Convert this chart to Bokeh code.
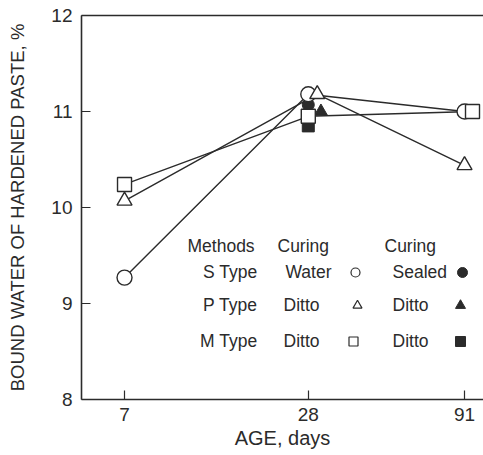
import math
from bokeh.plotting import figure
from bokeh.models import FixedTicker, LinearAxis
from bokeh.core.properties import value
from bokeh.embed import file_html
from bokeh.resources import INLINE

# ---------------- data ----------------
days = [7, 28, 91]
day_labels = ["7", "28", "91"]
s_water = [9.27, 11.18, 11.0]
p_water = [10.07, 11.18, 10.44]
m_water = [10.24, 10.95, 11.0]
sealed_day = 28
s_sealed = 11.07
p_sealed = 11.0
m_sealed = 10.85
y_ticks = [8, 9, 10, 11, 12]
y_label = "BOUND WATER OF HARDENED PASTE, %"
x_label = "AGE, days"

legend_head = ["Methods", "Curing", "Curing"]
legend_types = ["S Type", "P Type", "M Type"]
legend_water = ["Water", "Ditto", "Ditto"]
legend_sealed = ["Sealed", "Ditto", "Ditto"]

# ---------------- layout ----------------
W, H = 483, 455
FL, FR, FT, FB = 81, 483, 15, 399
XMIN, XMAX = 5.06, 105.0
YMIN, YMAX = 8, 12
LX0, LX1 = math.log10(XMIN), math.log10(XMAX)

def sx(px):
    return 10 ** (LX0 + (px - FL) * (LX1 - LX0) / (FR - FL))

def sy(py):
    return YMAX - (py - FT) * (YMAX - YMIN) / (FB - FT)

# small horizontal nudges (multiplicative on log axis) to separate overlapping marks
nudge_p28 = 1.07
nudge_p28_sealed = 1.10
nudge_m91 = 1.062

INK = "#2b2b2b"
FONT = "Liberation Sans"

p = figure(width=W, height=H, x_axis_type="log",
           x_range=(XMIN, XMAX), y_range=(YMIN, YMAX),
           output_backend="svg", toolbar_location=None,
           min_border_left=FL, min_border_right=W - FR,
           min_border_top=FT, min_border_bottom=H - FB)
p.outline_line_color = None
p.background_fill_color = "white"
p.border_fill_color = "white"
p.grid.visible = False

# axes
for ax in (p.xaxis[0], p.yaxis[0]):
    ax.axis_line_color = INK
    ax.axis_line_width = 1.6
    ax.major_tick_in = 9
    ax.major_tick_out = 0
    ax.major_tick_line_color = INK
    ax.major_tick_line_width = 1.2
    ax.minor_tick_line_color = None
    ax.major_label_text_font = FONT
    ax.major_label_text_font_size = "19px"
    ax.major_label_text_color = INK
    ax.axis_label_text_font = FONT
    ax.axis_label_text_font_style = "normal"
    ax.axis_label_text_color = INK

p.xaxis.ticker = FixedTicker(ticks=days)
p.xaxis.major_label_overrides = {d: l for d, l in zip(days, day_labels)}
p.xaxis.major_label_standoff = 8
p.xaxis.axis_label = x_label
p.xaxis.axis_label_text_font_size = "20px"
p.xaxis.axis_label_standoff = 3

p.yaxis.ticker = FixedTicker(ticks=y_ticks)
p.yaxis.major_label_standoff = 9
p.yaxis.axis_label = y_label
p.yaxis.axis_label_text_font_size = "18.5px"
p.yaxis.axis_label_standoff = 20

top = LinearAxis(ticker=FixedTicker(ticks=[]), axis_line_color=INK, axis_line_width=1.6,
                 major_tick_line_color=None, minor_tick_line_color=None,
                 major_label_text_font_size="0px", major_label_standoff=0)
p.add_layout(top, "above")

# ---------------- data lines ----------------
p_x = [days[0], days[1] * nudge_p28, days[2]]
m_x = [days[0], days[1], days[2] * nudge_m91]

p.line(days, s_water, line_color=INK, line_width=1.4)
p.line(p_x, p_water, line_color=INK, line_width=1.4)
p.line(m_x, m_water, line_color=INK, line_width=1.4)

# sealed (filled) markers at 28 days
p.scatter([sealed_day], [s_sealed], marker="circle", size=12, fill_color=INK, line_color=INK)
p.scatter([sealed_day], [m_sealed], marker="square", size=12, fill_color=INK, line_color=INK)
p.scatter([sealed_day * nudge_p28_sealed], [p_sealed], marker="triangle", size=13,
          fill_color=INK, line_color=INK)

# water (open) markers
p.scatter(days, s_water, marker="circle", size=15, fill_color="white", line_color=INK, line_width=1.4)
p.scatter(m_x, m_water, marker="square", size=14, fill_color="white", line_color=INK, line_width=1.4)
p.scatter(p_x, p_water, marker="triangle", size=15, fill_color="white", line_color=INK, line_width=1.4)

# ---------------- legend block ----------------
LFS = "17.5px"
head_px = [187, 277, 384]
p.text([sx(v) for v in head_px], [sy(245)] * 3, text=legend_head,
       text_font=value(FONT), text_font_size=LFS, text_color=INK,
       text_align="left", text_baseline="middle")

rows_py = [271, 304, 340]
p.text([sx(257)] * 3, [sy(v) for v in rows_py], text=legend_types,
       text_font=value(FONT), text_font_size=LFS, text_color=INK,
       text_align="right", text_baseline="middle")
p.text([sx(v) for v in (285, 283, 283)], [sy(v) for v in rows_py], text=legend_water,
       text_font=value(FONT), text_font_size=LFS, text_color=INK,
       text_align="left", text_baseline="middle")
p.text([sx(392)] * 3, [sy(v) for v in rows_py], text=legend_sealed,
       text_font=value(FONT), text_font_size=LFS, text_color=INK,
       text_align="left", text_baseline="middle")

open_px = [355, 357, 353]
open_marks = ["circle", "triangle", "square"]
filled_px = [462, 460, 460]
for i in range(3):
    p.scatter([sx(open_px[i])], [sy(rows_py[i] + 1)], marker=open_marks[i], size=9,
              fill_color="white", line_color=INK, line_width=1.2)
    p.scatter([sx(filled_px[i])], [sy(rows_py[i] + 1)], marker=open_marks[i], size=10,
              fill_color=INK, line_color=INK)

open("out.html", "w").write(file_html(p, INLINE))
